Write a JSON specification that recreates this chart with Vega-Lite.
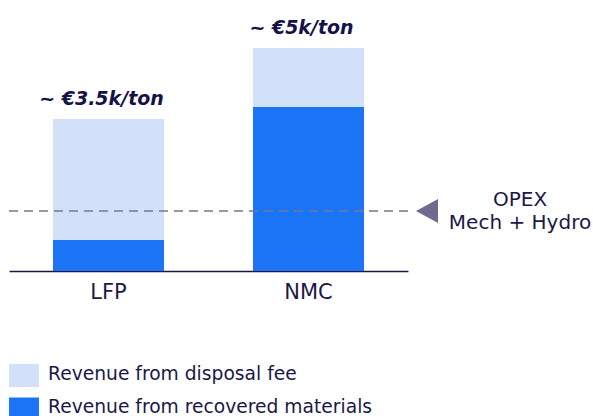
{
  "$schema": "https://vega.github.io/schema/vega-lite/v6.json",
  "width": 399,
  "height": 271,
  "autosize": {"type": "none"},
  "padding": {"left": 9, "top": 0, "right": 185, "bottom": 145},
  "background": "white",
  "config": {"view": {"stroke": null}, "font": "DejaVu Sans"},
  "datasets": {
    "bars": [
      {"battery": "LFP", "category": "Revenue from recovered materials", "value": 0.7},
      {"battery": "LFP", "category": "Revenue from disposal fee", "value": 2.72},
      {"battery": "NMC", "category": "Revenue from recovered materials", "value": 3.69},
      {"battery": "NMC", "category": "Revenue from disposal fee", "value": 1.33}
    ],
    "totals": [
      {"battery": "LFP", "total": 3.42, "label": "~ €3.5k/ton"},
      {"battery": "NMC", "total": 5.02, "label": "~ €5k/ton"}
    ],
    "opex": [
      {"battery": "NMC", "value": 1.35, "text": ["OPEX", "Mech + Hydro"]}
    ]
  },
  "layer": [
    {
      "data": {"name": "bars"},
      "mark": {"type": "bar"},
      "encoding": {
        "x": {
          "field": "battery", "type": "nominal",
          "scale": {"domain": ["LFP", "NMC"], "paddingInner": 0.445, "paddingOuter": 0.22},
          "axis": {
            "title": null, "ticks": false, "labelAngle": 0,
            "domainColor": "#1b1848", "domainWidth": 1.5,
            "labelColor": "#1b1848", "labelFontSize": 21, "labelPadding": 10,
            "labelFont": "DejaVu Sans"
          }
        },
        "y": {
          "field": "value", "type": "quantitative", "stack": "zero",
          "scale": {"domain": [0, 6.1], "nice": false, "zero": true},
          "axis": null
        },
        "color": {
          "field": "category", "type": "nominal",
          "scale": {
            "domain": ["Revenue from disposal fee", "Revenue from recovered materials"],
            "range": ["#d2e1f9", "#1a74f5"]
          },
          "legend": {
            "title": null, "orient": "none", "legendX": 3.5, "legendY": 364,
            "padding": 0,
            "symbolType": "M-1.3,-1H1.3V1H-1.3Z",
            "symbolSize": 529, "symbolStrokeWidth": 0, "symbolOpacity": 1,
            "rowPadding": 10.5, "labelOffset": 12.5,
            "labelFontSize": 18.7, "labelColor": "#1b1848", "labelFont": "DejaVu Sans",
            "labelLimit": 400,
            "encode": {"labels": {"update": {"dy": {"value": -2}}}}
          }
        },
        "order": {"field": "category", "sort": "descending"}
      }
    },
    {
      "data": {"name": "opex"},
      "mark": {"type": "rule", "strokeDash": [9, 6], "strokeWidth": 1.5, "color": "#7a7592"},
      "encoding": {
        "y": {"field": "value", "type": "quantitative"}
      }
    },
    {
      "data": {"name": "opex"},
      "mark": {"type": "point", "shape": "M-0.917,0L0.917,-1L0.917,1Z", "filled": true, "size": 576, "color": "#6f6a8e", "opacity": 1, "strokeWidth": 0},
      "encoding": {
        "x": {"field": "battery", "type": "nominal"},
        "xOffset": {"value": 174},
        "y": {"field": "value", "type": "quantitative"}
      }
    },
    {
      "data": {"name": "opex"},
      "mark": {"type": "text", "align": "center", "baseline": "alphabetic", "dx": 211.5, "dy": -5, "fontSize": 20, "lineHeight": 22.5, "color": "#1b1848", "font": "DejaVu Sans"},
      "encoding": {
        "x": {"field": "battery", "type": "nominal"},
        "y": {"field": "value", "type": "quantitative"},
        "text": {"field": "text"}
      }
    },
    {
      "data": {"name": "totals"},
      "mark": {"type": "text", "align": "center", "baseline": "alphabetic", "dx": -7, "dy": -14, "fontSize": 19, "fontWeight": "bold", "fontStyle": "italic", "color": "#15124a", "font": "DejaVu Sans"},
      "encoding": {
        "x": {"field": "battery", "type": "nominal"},
        "y": {"field": "total", "type": "quantitative"},
        "text": {"field": "label"}
      }
    }
  ]
}
